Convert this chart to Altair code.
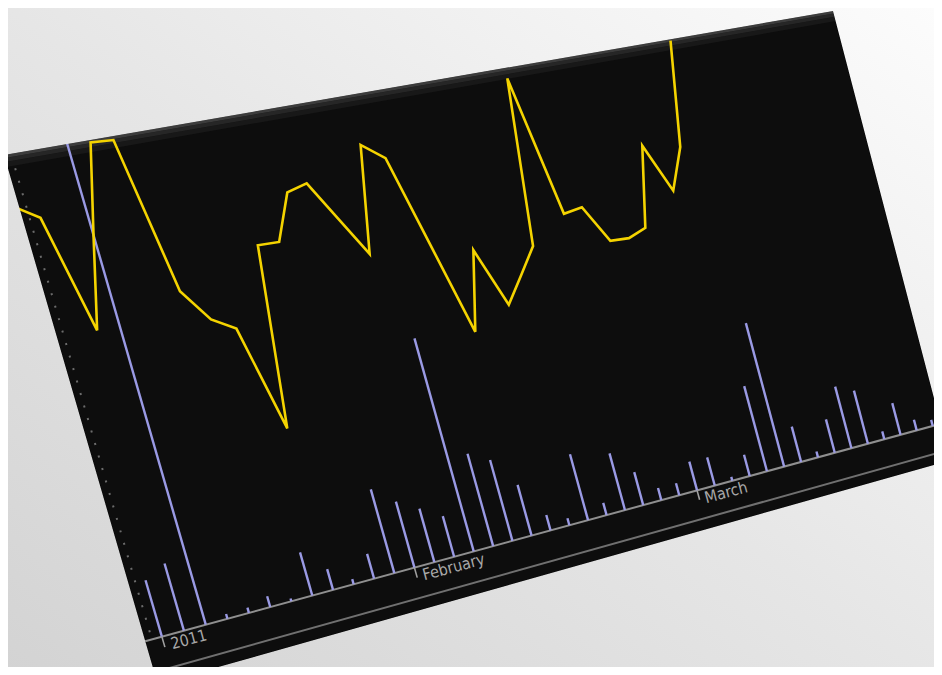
import altair as alt
import numpy as np
import pandas as pd

# ------------------------------------------------------------------ data
month_labels = ["2011", "February", "March"]
month_index = [0, 12, 27]

bar_index = list(range(42))
volume = [11.8, 14.1, 120.0, 1.0, 1.1, 2.3, 0.6, 9.3, 4.5, 1.1,
          5.4, 18.3, 14.5, 11.8, 9.0, 47.1, 20.6, 18.1, 11.4, 3.5,
          1.6, 15.0, 2.8, 13.0, 7.6, 2.8, 2.8, 6.7, 6.6, 0.9,
          5.0, 20.1, 33.9, 8.4, 1.4, 8.0, 14.8, 12.8, 1.9, 7.7,
          2.6, 1.5]

price_index = list(range(-1, 33))
price = [89.8, 86.6, 62.6, 81.3, 99.5, 99.2, 66.9, 60.0, 57.1, 34.8,
         72.9, 72.7, 82.4, 83.5, 75.0, 66.5, 89.3, 85.6, 65.6, 45.6,
         62.8, 49.7, 55.3, 61.0, 97.7, 66.5, 67.1, 58.6, 58.3, 59.8,
         77.8, 66.6, 75.9, 99.7]

# ------------------------------------------------------------------ layout
W, H = 926, 659          # svg size (page is 942x675 with an 8px margin)
PAGE = 8
I0, I1 = -0.75, 41.5     # horizontal extent of the plot, in data-index units
V0, V1 = 0.0, 100.0      # vertical extent of the plot, in value units
# screen position of the plot corners (the panel is seen in perspective)
PLOT_BL = (145.2, 641.2)
PLOT_BR = (940.7, 423.8)
PLOT_TL = (4.0, 155.0)
PLOT_TR = (833.0, 11.0)
PANEL_BOTTOM = -9.0      # panel extends below the axis (label band), value units


def homography():
    src = [(0.0, 0.0), (1.0, 0.0), (0.0, 1.0), (1.0, 1.0)]
    dst = [PLOT_BL, PLOT_BR, PLOT_TL, PLOT_TR]
    A, b = [], []
    for (s, t), (X, Y) in zip(src, dst):
        X -= PAGE
        Y -= PAGE
        A.append([s, t, 1, 0, 0, 0, -s * X, -t * X]); b.append(X)
        A.append([0, 0, 0, s, t, 1, -s * Y, -t * Y]); b.append(Y)
    return np.linalg.solve(np.array(A, float), np.array(b, float))


HM = homography()
HS = [f"{c:.12g}" for c in HM]


def to_screen(i, v):
    s = (i - I0) / (I1 - I0)
    t = (v - V0) / (V1 - V0)
    d = HM[6] * s + HM[7] * t + 1
    return [(HM[0] * s + HM[1] * t + HM[2]) / d, (HM[3] * s + HM[4] * t + HM[5]) / d]


def projected(chart, i_expr, v_expr, xname, yname):
    s = f"((({i_expr}) - ({I0})) / {I1 - I0})"
    t = f"((({v_expr}) - ({V0})) / {V1 - V0})"
    den = f"({HS[6]} * {s} + {HS[7]} * {t} + 1)"
    xe = f"({HS[0]} * {s} + {HS[1]} * {t} + {HS[2]}) / {den}"
    ye = f"({HS[3]} * {s} + {HS[4]} * {t} + {HS[5]}) / {den}"
    return chart.transform_calculate(**{xname: xe}).transform_calculate(**{yname: ye})


XS = alt.Scale(domain=[0, W], nice=False, zero=False)
YS = alt.Scale(domain=[0, H], nice=False, zero=False, reverse=True)


def xy(prefix=""):
    enc = dict(x=alt.X("X:Q", scale=XS, axis=None), y=alt.Y("Y:Q", scale=YS, axis=None))
    if prefix:
        enc["x2"] = alt.X2("X2:Q")
        enc["y2"] = alt.Y2("Y2:Q")
    return enc


def quad(i_a, i_b, v_a, v_b):
    # counter-clockwise on screen: top-left, bottom-left, bottom-right, top-right
    pts = [to_screen(i_a, v_b), to_screen(i_a, v_a), to_screen(i_b, v_a), to_screen(i_b, v_b)]
    return pts + [pts[0]]


def geo(rings, **mark):
    feat = {"type": "Feature", "properties": {},
            "geometry": {"type": "Polygon", "coordinates": rings}}
    return (alt.Chart(alt.Data(values=[feat]))
            .mark_geoshape(**mark)
            .project(type="identity", scale=1, translate=[0, 0]))


# ------------------------------------------------------------------ panel
panel_ring = quad(I0, I1, PANEL_BOTTOM, V1)
panel = geo([panel_ring], fill="#0d0d0d", stroke="#050505", strokeWidth=1)

strips = [
    geo([quad(I0, I1, 97.6, 98.6)], fill="#181818", strokeOpacity=0),
    geo([quad(I0, I1, 98.6, 99.4)], fill="#262626", strokeOpacity=0),
    geo([quad(I0, I1, 99.4, 100.0)], fill="#3c3c3c", strokeOpacity=0),
]

axis_df = pd.DataFrame({"a": [I0, I0], "b": [I1, I1], "v": [0.0, -6.5],
                        "c": ["#8f8f8f", "#707070"]})
axis_rules = projected(projected(alt.Chart(axis_df), "datum.a", "datum.v", "X", "Y"),
                       "datum.b", "datum.v", "X2", "Y2")
axis_rules = axis_rules.mark_rule(strokeWidth=2).encode(
    color=alt.Color("c:N", scale=None), **xy("2"))

# ------------------------------------------------------------------ bars
bar_df = pd.DataFrame({"i": bar_index, "v": volume})
bars = projected(projected(alt.Chart(bar_df), "datum.i", "0", "X", "Y"),
                 "datum.i", "datum.v", "X2", "Y2")
bars = bars.mark_rule(color="#9a9ae4", strokeWidth=2.4).encode(**xy("2"))

# ------------------------------------------------------------------ line
line_df = pd.DataFrame({"i": price_index, "v": price})
line = projected(alt.Chart(line_df), "datum.i", "datum.v", "X", "Y")
line = line.mark_line(color="#f4d300", strokeWidth=2.6).encode(
    order=alt.Order("i:Q"), **xy())

# ------------------------------------------------------------------ x axis ticks / labels
lab_df = pd.DataFrame({"i": month_index, "label": month_labels})
ticks = projected(projected(alt.Chart(lab_df), "datum.i", "0", "X", "Y"),
                  "datum.i", "-2.2", "X2", "Y2")
ticks = ticks.mark_rule(color="#a0a0a0", strokeWidth=1.6).encode(**xy("2"))

labels = projected(alt.Chart(lab_df), "datum.i + 0.3", "-0.4", "X", "Y")
labels = labels.mark_text(align="left", baseline="top", angle=345,
                          font="DejaVu Sans Condensed", fontSize=16,
                          color="#a8a8a8").encode(text="label:N", **xy())

# dotted left edge of the panel
dot_df = pd.DataFrame({"i": [I0 + 0.3], "a": [1.5], "b": [98.5]})
dots = projected(projected(alt.Chart(dot_df), "datum.i", "datum.a", "X", "Y"),
                 "datum.i", "datum.b", "X2", "Y2")
dots = dots.mark_rule(color="#6c6c6c", strokeWidth=2, strokeDash=[2, 11]).encode(**xy("2"))

# ------------------------------------------------------------------ background (frame around the panel)
outer = [[-4, -4], [W + 40, -4], [W + 40, H + 40], [-4, H + 40], [-4, -4]]
bg_gradient = alt.LinearGradient(
    gradient="linear",
    stops=[alt.GradientStop(color="#d2d2d2", offset=0),
           alt.GradientStop(color="#e6e6e6", offset=0.5),
           alt.GradientStop(color="#fdfdfd", offset=1)],
    x1=0, y1=1, x2=1, y2=0)
frame = geo([outer, panel_ring], fill=bg_gradient, strokeOpacity=0)

chart = alt.layer(
    panel, *strips, axis_rules, bars, line, ticks, labels, dots, frame
).properties(width=W, height=H, padding=0, autosize="none").configure_view(strokeWidth=0)

chart.save("out.html", embed_options={"renderer": "svg", "actions": False})
